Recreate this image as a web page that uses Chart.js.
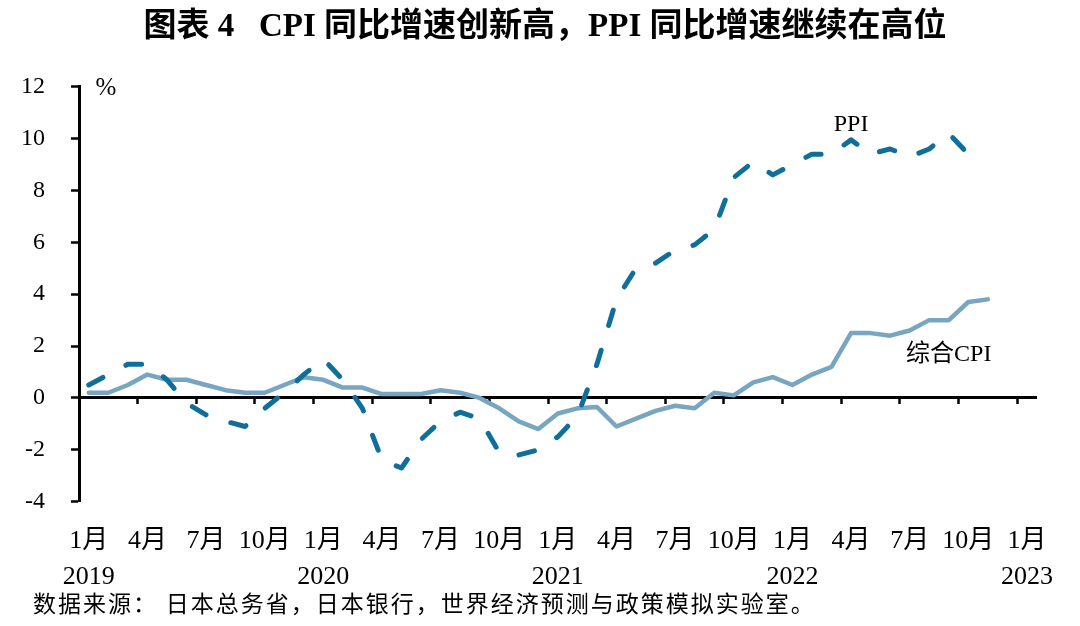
<!DOCTYPE html>
<html>
<head>
<meta charset="utf-8">
<script src="https://cdn.jsdelivr.net/npm/chart.js@4"></script>
<style>
  html, body { margin: 0; padding: 0; background: #fff; }
  #wrap { width: 1080px; height: 626px; }
</style>
</head>
<body>
<div id="wrap"><canvas id="c" width="1080" height="626"></canvas></div>
<script>
// Categories: monthly, Jan 2019 – Jan 2023
const categories = [
  '2019-01','2019-02','2019-03','2019-04','2019-05','2019-06','2019-07','2019-08','2019-09','2019-10','2019-11','2019-12',
  '2020-01','2020-02','2020-03','2020-04','2020-05','2020-06','2020-07','2020-08','2020-09','2020-10','2020-11','2020-12',
  '2021-01','2021-02','2021-03','2021-04','2021-05','2021-06','2021-07','2021-08','2021-09','2021-10','2021-11','2021-12',
  '2022-01','2022-02','2022-03','2022-04','2022-05','2022-06','2022-07','2022-08','2022-09','2022-10','2022-11','2022-12',
  '2023-01'
];

// PPI YoY (%), Jan 2019 – Oct 2022
const ppi = [
  0.5, 0.9, 1.3, 1.3, 0.7, -0.2, -0.65, -0.9, -1.1, -0.4, 0.2, 0.9,
  1.5, 0.7, -0.4, -2.4, -2.7, -1.6, -0.9, -0.55, -0.8, -2.1, -2.2, -2.0,
  -1.5, -0.7, 1.3, 3.8, 5.0, 5.2, 5.7, 5.9, 6.5, 8.5, 9.1, 8.6,
  9.0, 9.4, 9.4, 9.95, 9.4, 9.6, 9.3, 9.6, 10.2, 9.4
];

// Composite CPI YoY (%), Jan 2019 – Nov 2022
const cpi = [
  0.2, 0.2, 0.5, 0.9, 0.7, 0.7, 0.5, 0.3, 0.2, 0.2, 0.5, 0.8,
  0.7, 0.4, 0.4, 0.15, 0.15, 0.15, 0.3, 0.2, 0.0, -0.4, -0.9, -1.2,
  -0.6, -0.4, -0.35, -1.1, -0.8, -0.5, -0.3, -0.4, 0.2, 0.1, 0.6, 0.8,
  0.5, 0.9, 1.2, 2.5, 2.5, 2.4, 2.6, 3.0, 3.0, 3.7, 3.8
];

// Tick labels
const monthNames = { '01': '1月', '04': '4月', '07': '7月', '10': '10月' };
const yTicks = { min: -4, max: 12, step: 2 };

const titleText = '图表 4   CPI 同比增速创新高，PPI 同比增速继续在高位';
const sourceText = '数据来源： 日本总务省，日本银行，世界经济预测与政策模拟实验室。';
const unitText = '%';
const seriesLabels = [
  { text: 'PPI', index: 39, value: 10.55 },
  { text: '综合CPI', index: 44, value: 1.67 }
];

const FONT = "'Liberation Serif', 'Noto Sans CJK SC', serif";
const PPI_COLOR = '#0F6F9A';
const CPI_COLOR = '#78A6C1';

const textPlugin = {
  id: 'textPlugin',
  afterDraw(chart) {
    const ctx = chart.ctx;
    const xs = chart.scales.x, ys = chart.scales.y;
    ctx.save();
    ctx.fillStyle = '#000';
    ctx.textBaseline = 'middle';
    // unit
    ctx.textAlign = 'center';
    ctx.font = '25px ' + FONT;
    ctx.fillText(unitText, chart.chartArea.left + 27, ys.getPixelForValue(yTicks.max) + 2);
    // series labels
    ctx.font = '24px ' + FONT;
    seriesLabels.forEach(l => {
      ctx.fillText(l.text, xs.getPixelForValue(l.index), ys.getPixelForValue(l.value));
    });
    // source
    ctx.textAlign = 'left';
    ctx.font = '23px ' + FONT;
    if ('letterSpacing' in ctx) ctx.letterSpacing = '2px';
    ctx.fillText(sourceText, 33, 606);
    ctx.restore();
  }
};

new Chart(document.getElementById('c'), {
  type: 'line',
  data: {
    labels: categories,
    datasets: [
      {
        label: 'PPI',
        data: ppi,
        borderColor: PPI_COLOR,
        borderWidth: 5,
        borderDash: [16, 26],
        borderCapStyle: 'round',
        borderJoinStyle: 'round',
        pointRadius: 0,
        tension: 0,
        fill: false,
        xAxisID: 'x',
        yAxisID: 'y'
      },
      {
        label: '综合CPI',
        data: cpi,
        borderColor: CPI_COLOR,
        borderWidth: 4.5,
        borderJoinStyle: 'round',
        borderCapStyle: 'round',
        pointRadius: 0,
        tension: 0,
        fill: false,
        xAxisID: 'x',
        yAxisID: 'y'
      }
    ]
  },
  options: {
    responsive: false,
    animation: false,
    devicePixelRatio: 1,
    layout: { padding: { left: 10, right: 0, top: 0, bottom: 8.7 } },
    plugins: {
      legend: { display: false },
      tooltip: { enabled: false },
      title: {
        display: true,
        text: titleText,
        color: '#000',
        font: { family: FONT, size: 33, weight: 'bold', lineHeight: 1.2 },
        padding: { top: 8, bottom: 39.1 }
      }
    },
    scales: {
      x: {
        type: 'category',
        position: 'bottom',
        offset: true,
        grid: { display: false, drawTicks: false },
        border: { display: false },
        ticks: {
          autoSkip: false,
          maxRotation: 0,
          minRotation: 0,
          padding: 21.8,
          color: '#000',
          font: { family: FONT, size: 26, lineHeight: 36 / 26 },
          callback: function (val, idx) {
            const cat = categories[idx];
            const [yr, mo] = cat.split('-');
            if (!(mo in monthNames)) return '';
            return mo === '01' ? [monthNames[mo], yr] : [monthNames[mo]];
          }
        }
      },
      x0: {
        type: 'category',
        position: { y: 0 },
        offset: true,
        grid: {
          display: true,
          drawOnChartArea: false,
          drawTicks: true,
          tickLength: 5,
          offset: true,
          tickWidth: 2.5,
          tickColor: ctx => (ctx.index !== undefined && ctx.index > 0 && ctx.index % 3 === 0) ? '#000' : 'rgba(0,0,0,0)'
        },
        border: { display: true, color: '#000', width: 3 },
        ticks: { display: false, autoSkip: false }
      },
      y: {
        type: 'linear',
        position: 'left',
        min: yTicks.min,
        max: yTicks.max,
        afterFit: s => { s.width = 69; },
        grid: {
          display: true,
          drawOnChartArea: false,
          drawTicks: true,
          tickLength: 8,
          tickWidth: 2.5,
          tickColor: '#000'
        },
        border: { display: true, color: '#000', width: 3 },
        ticks: {
          stepSize: yTicks.step,
          padding: 26,
          color: '#000',
          font: { family: FONT, size: 24 }
        }
      },
      yR: {
        type: 'linear',
        position: 'right',
        display: true,
        afterFit: s => { s.width = 43.3; },
        grid: { display: false },
        border: { display: false },
        ticks: { display: false }
      }
    }
  },
  plugins: [textPlugin]
});
</script>
</body>
</html>
